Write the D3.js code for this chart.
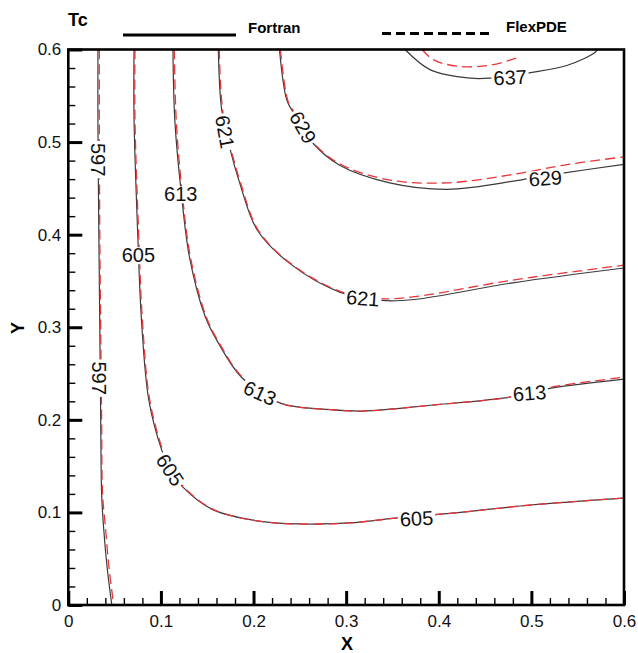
<!DOCTYPE html>
<html lang="en">
<head>
<meta charset="UTF-8">
<script src="https://d3js.org/d3.v7.min.js"></script>
<title>Tc contours</title>
<style>
  body { margin: 0; background: #fff; }
  svg text { font-family: "Liberation Sans", Arial, Helvetica, sans-serif; }
  .tick text { font-size: 17px; fill: #111; }
  .fortran { fill: none; stroke: #3a3a3a; stroke-width: 1.2px; }
  .flexpde { fill: none; stroke: #e8353a; stroke-width: 1.3px; stroke-dasharray: 10 5; }
  .clabel { font-size: 20px; fill: #111; }
</style>
</head>
<body>
<div id="chart"></div>
<script>
// contour lines of Tc, [x, y] points along each level
var fortran597 = [[0.032,0.6],[0.032,0.52],[0.033,0.4],[0.034,0.3],[0.035,0.2],[0.036,0.12],[0.038,0.085],[0.042,0.04],[0.047,0]];
var fortran605 = [[0.071,0.6],[0.071,0.524],[0.075,0.4],[0.079,0.308],[0.087,0.221],[0.101,0.167],[0.110,0.146],[0.124,0.127],[0.156,0.103],[0.210,0.090],[0.253,0.0875],[0.304,0.0886],[0.355,0.094],[0.423,0.100],[0.499,0.108],[0.600,0.1155]];
var fortran613 = [[0.113,0.6],[0.115,0.524],[0.122,0.445],[0.131,0.375],[0.148,0.311],[0.162,0.283],[0.187,0.246],[0.229,0.218],[0.283,0.211],[0.318,0.2095],[0.394,0.216],[0.477,0.2246],[0.520,0.234],[0.600,0.244]];
var fortran621 = [[0.162,0.6],[0.1656,0.535],[0.175,0.491],[0.185,0.456],[0.204,0.405],[0.239,0.369],[0.293,0.338],[0.338,0.329],[0.374,0.330],[0.480,0.348],[0.600,0.364]];
var fortran629 = [[0.228,0.6],[0.236,0.545],[0.243,0.532],[0.264,0.499],[0.293,0.475],[0.347,0.456],[0.409,0.449],[0.488,0.459],[0.534,0.4665],[0.600,0.476]];
var fortran637 = [[0.3636,0.6],[0.391,0.578],[0.434,0.569],[0.455,0.569],[0.499,0.575],[0.539,0.583],[0.569,0.597],[0.571,0.6]];

var flexpde597 = [[0.0335,0.6],[0.0335,0.52],[0.034,0.4],[0.035,0.3],[0.036,0.2],[0.037,0.12],[0.040,0.085],[0.044,0.04],[0.049,0]];
var flexpde605 = [[0.072,0.6],[0.072,0.524],[0.076,0.4],[0.080,0.308],[0.088,0.221],[0.102,0.167],[0.111,0.146],[0.125,0.127],[0.157,0.103],[0.210,0.090],[0.253,0.0875],[0.304,0.0886],[0.355,0.094],[0.423,0.100],[0.499,0.108],[0.600,0.1155]];
var flexpde613 = [[0.1145,0.6],[0.1165,0.524],[0.123,0.445],[0.132,0.375],[0.149,0.311],[0.163,0.283],[0.188,0.246],[0.229,0.218],[0.283,0.211],[0.318,0.2095],[0.394,0.216],[0.477,0.2246],[0.520,0.235],[0.600,0.246]];
var flexpde621 = [[0.163,0.6],[0.1666,0.535],[0.176,0.491],[0.186,0.456],[0.205,0.405],[0.240,0.369],[0.293,0.339],[0.338,0.331],[0.374,0.333],[0.480,0.351],[0.600,0.367]];
var flexpde629 = [[0.229,0.6],[0.237,0.545],[0.244,0.532],[0.265,0.499],[0.294,0.476],[0.347,0.459],[0.409,0.456],[0.480,0.465],[0.540,0.476],[0.600,0.484]];
var flexpde637 = [[0.382,0.6],[0.394,0.589],[0.420,0.582],[0.455,0.583],[0.488,0.592]];

// label value, position and text angle (degrees)
var labels = [
  [597, 0.0318, 0.481, 90], [597, 0.0335, 0.245, 90],
  [605, 0.0757, 0.378, 0], [605, 0.110, 0.146, 57], [605, 0.376, 0.0936, -3],
  [613, 0.1214, 0.4438, 0], [613, 0.207, 0.229, 25], [613, 0.498, 0.229, -5],
  [621, 0.1692, 0.511, 80], [621, 0.318, 0.3315, 4],
  [629, 0.2535, 0.516, 60], [629, 0.515, 0.461, -4],
  [637, 0.477, 0.570, -3]
];

var xTicks = [0, 0.1, 0.2, 0.3, 0.4, 0.5, 0.6];
var yTicks = [0, 0.1, 0.2, 0.3, 0.4, 0.5, 0.6];
var minorTicks = d3.range(0, 0.6001, 0.02);

var W = 638, H = 653;
var svg = d3.select("#chart").append("svg").attr("width", W).attr("height", H);

var x = d3.scaleLinear().domain([0, 0.6]).range([68.3, 624]);
var y = d3.scaleLinear().domain([0, 0.6]).range([605, 49.5]);

svg.append("clipPath").attr("id", "plotclip")
  .append("rect").attr("x", x(0)).attr("y", y(0.6))
  .attr("width", x(0.6) - x(0)).attr("height", y(0) - y(0.6));

var line = d3.line().x(d => x(d[0])).y(d => y(d[1])).curve(d3.curveCatmullRom.alpha(0.5));

var plot = svg.append("g").attr("clip-path", "url(#plotclip)");

[fortran597, fortran605, fortran613, fortran621, fortran629, fortran637].forEach(function(c) {
  plot.append("path").attr("class", "fortran").attr("d", line(c));
});
[flexpde597, flexpde605, flexpde613, flexpde621, flexpde629, flexpde637].forEach(function(c) {
  plot.append("path").attr("class", "flexpde").attr("d", line(c));
});

// labels sit in a white box that breaks the lines
labels.forEach(function(l) {
  var g = svg.append("g")
    .attr("transform", "translate(" + x(l[1]) + "," + y(l[2]) + ") rotate(" + l[3] + ")");
  var bg = g.append("rect").attr("fill", "#fff");
  var t = g.append("text").attr("class", "clabel")
    .attr("text-anchor", "middle").attr("dy", "0.36em").text(l[0]);
  var b = t.node().getBBox();
  bg.attr("x", b.x - 2).attr("y", b.y + 3).attr("width", b.width + 4).attr("height", b.height - 5);
});

// axes: inward major and minor ticks
svg.append("g").attr("transform", "translate(0," + y(0) + ")")
  .call(d3.axisBottom(x).tickValues(minorTicks).tickSize(-7).tickFormat(""))
  .call(g => g.select(".domain").remove())
  .call(g => g.selectAll("line").attr("stroke", "#000").attr("stroke-width", 1.4));
svg.append("g").attr("transform", "translate(0," + y(0) + ")")
  .call(d3.axisBottom(x).tickValues(xTicks).tickSize(-14).tickPadding(10).tickFormat(d3.format("")))
  .call(g => g.select(".domain").remove())
  .call(g => g.selectAll("line").attr("stroke", "#000").attr("stroke-width", 3));

svg.append("g").attr("transform", "translate(" + x(0) + ",0)")
  .call(d3.axisLeft(y).tickValues(minorTicks).tickSize(-7).tickFormat(""))
  .call(g => g.select(".domain").remove())
  .call(g => g.selectAll("line").attr("stroke", "#000").attr("stroke-width", 1.4));
svg.append("g").attr("transform", "translate(" + x(0) + ",0)")
  .call(d3.axisLeft(y).tickValues(yTicks).tickSize(-14).tickPadding(7).tickFormat(d3.format("")))
  .call(g => g.select(".domain").remove())
  .call(g => g.selectAll("line").attr("stroke", "#000").attr("stroke-width", 3));

svg.selectAll(".tick text").attr("font-family", null);

svg.append("rect")
  .attr("x", x(0)).attr("y", y(0.6))
  .attr("width", x(0.6) - x(0)).attr("height", y(0) - y(0.6))
  .attr("fill", "none").attr("stroke", "#000").attr("stroke-width", 2.6);

// titles
svg.append("text").attr("x", 347).attr("y", 650).attr("text-anchor", "middle")
  .attr("font-size", 18).attr("font-weight", "bold").text("X");
svg.append("text").attr("transform", "translate(24,328) rotate(-90)").attr("text-anchor", "middle")
  .attr("font-size", 18).attr("font-weight", "bold").text("Y");
svg.append("text").attr("x", 68).attr("y", 26)
  .attr("font-size", 18).attr("font-weight", "bold").text("Tc");

// legend
var legend = [["Fortran", 123, 236, 35, 248, 33], ["FlexPDE", 382, 491, 33.5, 506, 32]];
legend.forEach(function(d, i) {
  svg.append("line").attr("x1", d[1]).attr("x2", d[2]).attr("y1", d[3]).attr("y2", d[3])
    .attr("stroke", "#000").attr("stroke-width", 3.2)
    .attr("stroke-dasharray", i ? "9 5" : null);
  svg.append("text").attr("x", d[4]).attr("y", d[5])
    .attr("font-size", 15).attr("font-weight", "bold").text(d[0]);
});
</script>
</body>
</html>
